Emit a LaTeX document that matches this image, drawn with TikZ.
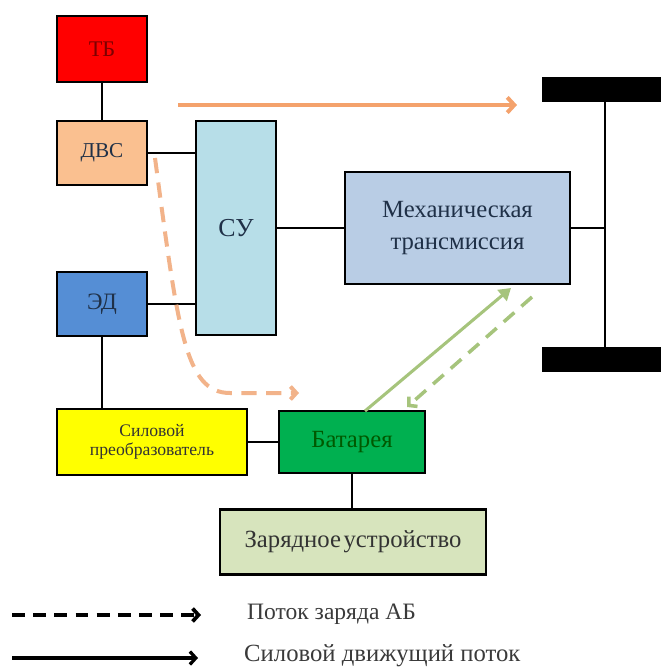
\documentclass[tikz,border=0pt]{standalone}
\usepackage{fontspec}
\setmainfont{Liberation Serif}
\usepackage{tikz}
\usetikzlibrary{arrows.meta}
\definecolor{tbred}{HTML}{FF0000}
\definecolor{dvsfill}{HTML}{FAC090}
\definecolor{sufill}{HTML}{B7DEE8}
\definecolor{edfill}{HTML}{558ED5}
\definecolor{mechfill}{HTML}{B9CDE5}
\definecolor{convfill}{HTML}{FFFF00}
\definecolor{batfill}{HTML}{00B050}
\definecolor{chargefill}{HTML}{D7E4BD}
\definecolor{boxtext}{HTML}{1F3047}
\definecolor{flowor}{HTML}{F4A26C}
\definecolor{floworlight}{HTML}{F2B38A}
\definecolor{flowgr}{HTML}{A6C47C}
\definecolor{legtext}{HTML}{3A3A3A}

\begin{document}
\begin{tikzpicture}[x=0.85pt, y=-0.85pt,
        unit/.style={draw, line width=2.3pt, inner sep=0pt, align=center, text=boxtext},
        shaft/.style={line width=2.4pt},
        tip/.style={-{Straight Barb[length=5pt, width=11pt]}}]
                \useasboundingbox (0,0) rectangle (661,668);

                % units
                \node[unit, fill=tbred, text=black!30!tbred!70!black, minimum width=76.5pt, minimum height=56pt,
                    font=\fontsize{19}{21}\selectfont] (TB) at (102,49) {ТБ};
                \node[unit, fill=dvsfill, minimum width=76.5pt, minimum height=54.4pt,
                    font=\fontsize{18}{20}\selectfont] (DVS) at (102,153) {ДВС};
                \node[unit, fill=sufill, minimum width=68pt, minimum height=182pt,
                    font=\fontsize{22}{24}\selectfont] (SU) at (236,228) {СУ};
                \node[unit, fill=edfill, minimum width=76.5pt, minimum height=54.4pt,
                    font=\fontsize{20}{22}\selectfont] (ED) at (102,304) {ЭД};
                \node[unit, fill=mechfill, minimum width=191.3pt, minimum height=95.2pt,
                    font=\fontsize{21}{27}\selectfont] (Mech) at (457.5,228) {Механическая\\трансмиссия};
                \node[unit, fill=convfill, text=black!80, minimum width=161.5pt, minimum height=56.1pt,
                    font=\fontsize{15}{16}\selectfont] (Conv) at (152,442) {Силовой\\преобразователь};
                \node[unit, fill=batfill, text=green!35!black, minimum width=124.1pt, minimum height=52.7pt,
                    font=\fontsize{21}{23}\selectfont] (Bat) at (352,442) {Батарея};
                \node[unit, fill=chargefill, text=black!80, minimum width=226.1pt, minimum height=55.3pt,
                    font=\fontsize{21}{23}\selectfont] (Charge) at (353,542) {Зарядное\hspace{0.1em}устройство};

                % wheels and axle
                \node[fill=black, inner sep=0pt, minimum width=101.2pt, minimum height=21.3pt] (WheelT) at (601.5,89.5) {};
                \node[fill=black, inner sep=0pt, minimum width=101.2pt, minimum height=21.3pt] (WheelB) at (601.5,359.5) {};
                \coordinate (Axle) at (605,228);
                \draw[shaft] (WheelT.south -| Axle) -- (WheelB.north -| Axle);
                \draw[shaft] (Mech) -- (Axle);

                % links
                \draw[shaft] (TB) -- (DVS);
                \draw[shaft] (DVS) -- (DVS -| SU.west);
                \draw[shaft] (ED) -- (ED -| SU.west);
                \draw[shaft] (SU) -- (Mech);
                \draw[shaft] (ED.south) -- (ED.south |- Conv.north);
                \draw[shaft] (Conv) -- (Bat);
                \draw[shaft] (Bat.south) -- (Bat.south |- Charge.north);

                % flows
                \coordinate (OrS) at (178,105);
                \coordinate (OrE) at (517,105);
                \draw[flowor, line width=3.4pt, -{Straight Barb[length=6pt, width=13pt]}] (OrS) -- (OrE);

                \coordinate (ChS) at (155,158);
                \coordinate (ChE) at (299,393);
                \draw[floworlight, line width=3.4pt, dash pattern=on 13pt off 8pt, tip]
                    (ChS) .. controls (178,330) and (185,393) .. (230,393) -- (ChE);

                \coordinate (GrS) at (365,411);
                \coordinate (GrE) at (511,288);
                \draw[flowgr, line width=2.6pt, -{Triangle[length=10pt, width=12pt]}] (GrS) -- (GrE);

                \coordinate (GdS) at (532,297);
                \coordinate (GdE) at (407,407);
                \draw[flowgr, line width=3pt, dash pattern=on 12pt off 8pt, tip] (GdS) -- (GdE);

                % legend
                \node[anchor=west, text=legtext, font=\fontsize{20}{22}\selectfont, inner sep=0pt] (LegCharge) at (247,614) {Поток заряда АБ};
                \node[anchor=west, text=legtext, font=\fontsize{21}{23}\selectfont, inner sep=0pt] (LegPower) at (244,656) {Силовой движущий поток};
                \coordinate (LcS) at (12,615);
                \coordinate (LcE) at (201,615);
                \coordinate (LpS) at (12,658);
                \coordinate (LpE) at (198,658);
                \draw[line width=3.2pt, dash pattern=on 11pt off 7pt, tip] (LcS) -- (LcE);
                \draw[line width=2.8pt, tip] (LpS) -- (LpE);
            \end{tikzpicture}
\end{document}
